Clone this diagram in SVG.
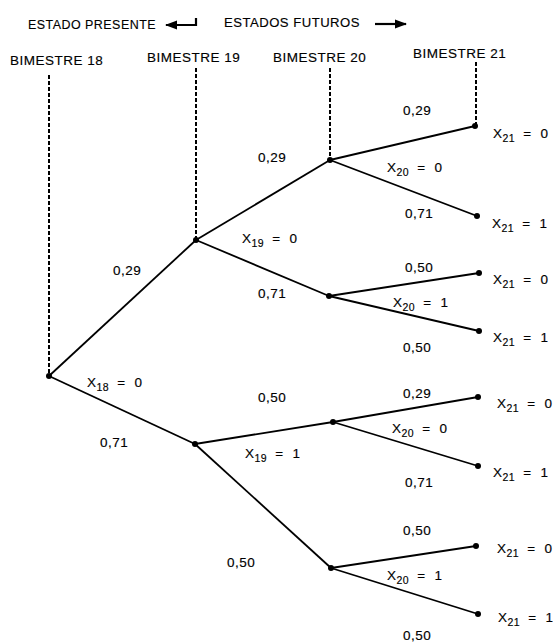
<svg xmlns="http://www.w3.org/2000/svg" width="557" height="644" viewBox="0 0 557 644">
<style>
text{font-family:"Liberation Sans",Arial,sans-serif;font-size:13.5px;fill:#000;letter-spacing:0.5px;stroke:#000;stroke-width:0.15px}
.sub{font-size:10.5px}
.edge{stroke:#000;stroke-width:1.8;fill:none}
.dash{stroke:#000;stroke-width:2;stroke-dasharray:4,2;fill:none}
.dot{fill:#000}
</style>
<defs>
<marker id="ah" viewBox="0 0 12 10" refX="11" refY="5" markerWidth="12" markerHeight="10" markerUnits="userSpaceOnUse" orient="auto">
<path d="M0,0.5 L12,5 L0,9.5 Z" fill="#000"/>
</marker>
</defs>
<g id="header">
<text x="28" y="29" textLength="128" lengthAdjust="spacingAndGlyphs">ESTADO PRESENTE</text>
<path d="M196,18 V25 H166" stroke="#000" stroke-width="2.2" fill="none" marker-end="url(#ah)"/>
<text x="224" y="27" textLength="136" lengthAdjust="spacingAndGlyphs">ESTADOS FUTUROS</text>
<path d="M375,24 H406" stroke="#000" stroke-width="2.2" fill="none" marker-end="url(#ah)"/>
<text x="10" y="65">BIMESTRE 18</text>
<text x="147" y="62">BIMESTRE 19</text>
<text x="273" y="62">BIMESTRE 20</text>
<text x="413" y="58">BIMESTRE 21</text>
</g>
<g id="connectors">
<path class="dash" d="M49,75 V376"/>
<path class="dash" d="M196,68 V240"/>
<path class="dash" d="M330,68 V160"/>
<path class="dash" d="M476,62 V126"/>
<path class="edge" d="M49,376 L196,240"/>
<path class="edge" d="M49,376 L195,444"/>
<path class="edge" d="M196,240 L330,160"/>
<path class="edge" d="M196,240 L329,296"/>
<path class="edge" d="M195,444 L333,422"/>
<path class="edge" d="M195,444 L331,568"/>
<path class="edge" d="M330,160 L475,126"/>
<path class="edge" d="M330,160 L477,216"/>
<path class="edge" d="M329,296 L479,273"/>
<path class="edge" d="M329,296 L479,331"/>
<path class="edge" d="M333,422 L478,397"/>
<path class="edge" d="M333,422 L478,466"/>
<path class="edge" d="M331,568 L476,546"/>
<path class="edge" d="M331,568 L478,614"/>
</g>
<g id="n18"><circle class="dot" cx="49" cy="376" r="3"/><text x="87" y="387">X<tspan class="sub" dy="4">18</tspan><tspan dy="-4" dx="8">=</tspan><tspan dx="9">0</tspan></text></g>
<g id="n19a"><circle class="dot" cx="196" cy="240" r="3"/><text x="242" y="243">X<tspan class="sub" dy="4">19</tspan><tspan dy="-4" dx="8">=</tspan><tspan dx="9">0</tspan></text></g>
<g id="n19b"><circle class="dot" cx="195" cy="444" r="3"/><text x="245" y="458">X<tspan class="sub" dy="4">19</tspan><tspan dy="-4" dx="8">=</tspan><tspan dx="9">1</tspan></text></g>
<g id="n20a"><circle class="dot" cx="330" cy="160" r="3"/><text x="387" y="172">X<tspan class="sub" dy="4">20</tspan><tspan dy="-4" dx="8">=</tspan><tspan dx="9">0</tspan></text></g>
<g id="n20b"><circle class="dot" cx="329" cy="296" r="3"/><text x="393" y="307">X<tspan class="sub" dy="4">20</tspan><tspan dy="-4" dx="8">=</tspan><tspan dx="9">1</tspan></text></g>
<g id="n20c"><circle class="dot" cx="333" cy="422" r="3"/><text x="392" y="433">X<tspan class="sub" dy="4">20</tspan><tspan dy="-4" dx="8">=</tspan><tspan dx="9">0</tspan></text></g>
<g id="n20d"><circle class="dot" cx="331" cy="568" r="3"/><text x="387" y="580">X<tspan class="sub" dy="4">20</tspan><tspan dy="-4" dx="8">=</tspan><tspan dx="9">1</tspan></text></g>
<g id="l1"><circle class="dot" cx="475" cy="126" r="3"/><text x="493" y="138">X<tspan class="sub" dy="4">21</tspan><tspan dy="-4" dx="8">=</tspan><tspan dx="9">0</tspan></text></g>
<g id="l2"><circle class="dot" cx="477" cy="216" r="3"/><text x="492" y="228">X<tspan class="sub" dy="4">21</tspan><tspan dy="-4" dx="8">=</tspan><tspan dx="9">1</tspan></text></g>
<g id="l3"><circle class="dot" cx="479" cy="273" r="3"/><text x="493" y="284">X<tspan class="sub" dy="4">21</tspan><tspan dy="-4" dx="8">=</tspan><tspan dx="9">0</tspan></text></g>
<g id="l4"><circle class="dot" cx="479" cy="331" r="3"/><text x="493" y="342">X<tspan class="sub" dy="4">21</tspan><tspan dy="-4" dx="8">=</tspan><tspan dx="9">1</tspan></text></g>
<g id="l5"><circle class="dot" cx="478" cy="397" r="3"/><text x="497" y="408">X<tspan class="sub" dy="4">21</tspan><tspan dy="-4" dx="8">=</tspan><tspan dx="9">0</tspan></text></g>
<g id="l6"><circle class="dot" cx="478" cy="466" r="3"/><text x="493" y="477">X<tspan class="sub" dy="4">21</tspan><tspan dy="-4" dx="8">=</tspan><tspan dx="9">1</tspan></text></g>
<g id="l7"><circle class="dot" cx="476" cy="546" r="3"/><text x="497" y="553">X<tspan class="sub" dy="4">21</tspan><tspan dy="-4" dx="8">=</tspan><tspan dx="9">0</tspan></text></g>
<g id="l8"><circle class="dot" cx="478" cy="614" r="3"/><text x="498" y="622">X<tspan class="sub" dy="4">21</tspan><tspan dy="-4" dx="8">=</tspan><tspan dx="9">1</tspan></text></g>
<g id="probs">
<text x="113" y="275">0,29</text>
<text x="100" y="447">0,71</text>
<text x="258" y="162">0,29</text>
<text x="258" y="298">0,71</text>
<text x="258" y="402">0,50</text>
<text x="227" y="567">0,50</text>
<text x="403" y="115">0,29</text>
<text x="405" y="218">0,71</text>
<text x="405" y="272">0,50</text>
<text x="403" y="352">0,50</text>
<text x="403" y="398">0,29</text>
<text x="405" y="487">0,71</text>
<text x="403" y="535">0,50</text>
<text x="403" y="640">0,50</text>
</g>
</svg>
